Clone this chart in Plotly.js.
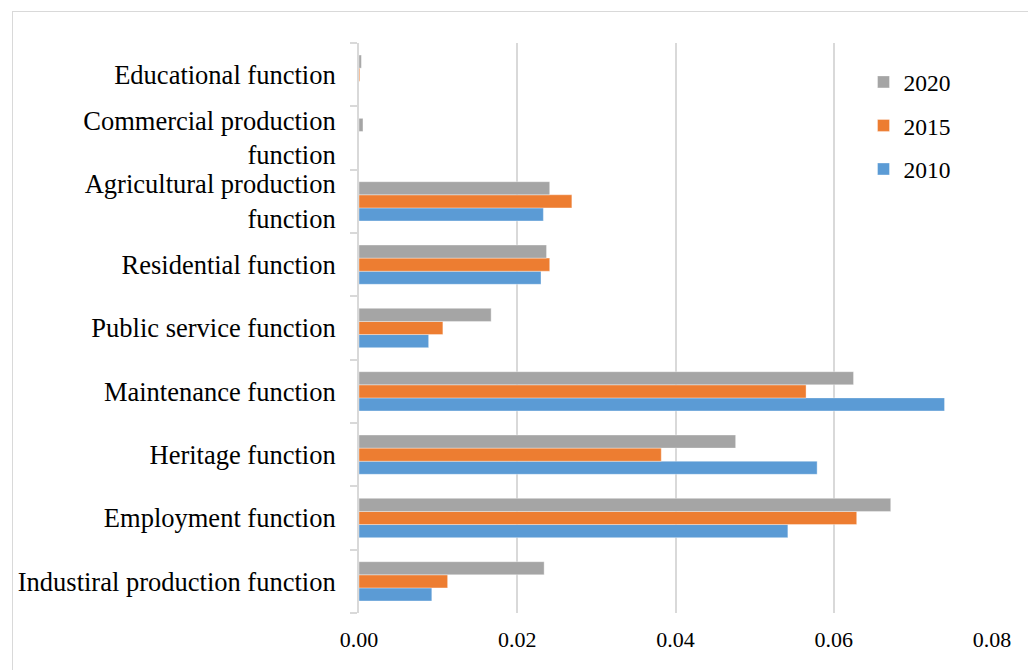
<!DOCTYPE html>
<html>
<head>
<meta charset="utf-8">
<script src="https://cdn.plot.ly/plotly-3.0.1.min.js"></script>
<style>
  html, body { margin: 0; padding: 0; background: #fff; overflow: hidden; }
  #frame { position: absolute; left: 12px; top: 11px; width: 1100px; height: 760px;
           border: 1px solid #d9d9d9; box-sizing: border-box; }
  #chart { position: absolute; left: 0; top: 0; width: 1028px; height: 670px; }
</style>
</head>
<body>
<div id="frame"></div>
<div id="chart"></div>
<script>
// Functions, listed bottom to top as they appear on the category axis
const categories = [
  "Industiral production function",
  "Employment function",
  "Heritage function",
  "Maintenance function",
  "Public service function",
  "Residential function",
  "Agricultural production<br>function",
  "Commercial production<br>function",
  "Educational function"
];

const values2010 = [0.0092, 0.0542, 0.0579, 0.0740, 0.0088, 0.0230, 0.0233, 0.0000, 0.0000];
const values2015 = [0.0112, 0.0629, 0.0382, 0.0565, 0.0106, 0.0241, 0.0269, 0.0000, 0.0001];
const values2020 = [0.0234, 0.0672, 0.0476, 0.0625, 0.0167, 0.0237, 0.0241, 0.0005, 0.0003];

const seriesNames = ["2010", "2015", "2020"];
const seriesColors = ["#5B9BD5", "#ED7D31", "#A5A5A5"];
const seriesValues = [values2010, values2015, values2020];

const xTickValues = [0, 0.02, 0.04, 0.06, 0.08];

const serif = "Liberation Serif, Times New Roman, serif";

const traces = seriesNames.map((name, i) => ({
  type: "bar",
  orientation: "h",
  name: name,
  legendgroup: name,
  legendrank: 3 - i,
  x: seriesValues[i],
  y: categories,
  marker: { color: seriesColors[i], line: { color: "rgba(255,255,255,0.6)", width: 0.6 } },
  hoverinfo: "x+name"
}));

const layout = {
  width: 1028,
  height: 670,
  paper_bgcolor: "rgba(0,0,0,0)",
  plot_bgcolor: "rgba(0,0,0,0)",
  margin: { l: 359, r: 36, t: 43, b: 57 },
  barmode: "group",
  bargap: 0.38,
  bargroupgap: 0,
  font: { family: serif, size: 22, color: "#000" },
  xaxis: {
    range: [0, 0.08],
    tickvals: xTickValues,
    tickformat: ".2f",
    showgrid: true,
    gridcolor: "#d9d9d9",
    gridwidth: 2,
    zeroline: false,
    showline: false,
    ticks: "",
    ticklabelstandoff: 11,
    tickfont: { family: serif, size: 22, color: "#000" },
    fixedrange: true
  },
  yaxis: {
    type: "category",
    categoryorder: "array",
    categoryarray: categories,
    showline: true,
    linecolor: "#d9d9d9",
    linewidth: 2,
    ticks: "outside",
    tickson: "boundaries",
    ticklen: 7,
    tickwidth: 2,
    tickcolor: "#d9d9d9",
    ticklabelstandoff: 16,
    showgrid: false,
    tickfont: { family: serif, size: 26.5, color: "#000" },
    fixedrange: true
  },
  showlegend: true,
  legend: {
    traceorder: "grouped",
    tracegroupgap: 10,
    x: 0.797,
    xanchor: "left",
    y: 0.97,
    yanchor: "top",
    bgcolor: "rgba(0,0,0,0)",
    font: { family: serif, size: 23.5, color: "#000" }
  }
};

Plotly.newPlot("chart", traces, layout, { displayModeBar: false, staticPlot: true });
</script>
</body>
</html>
